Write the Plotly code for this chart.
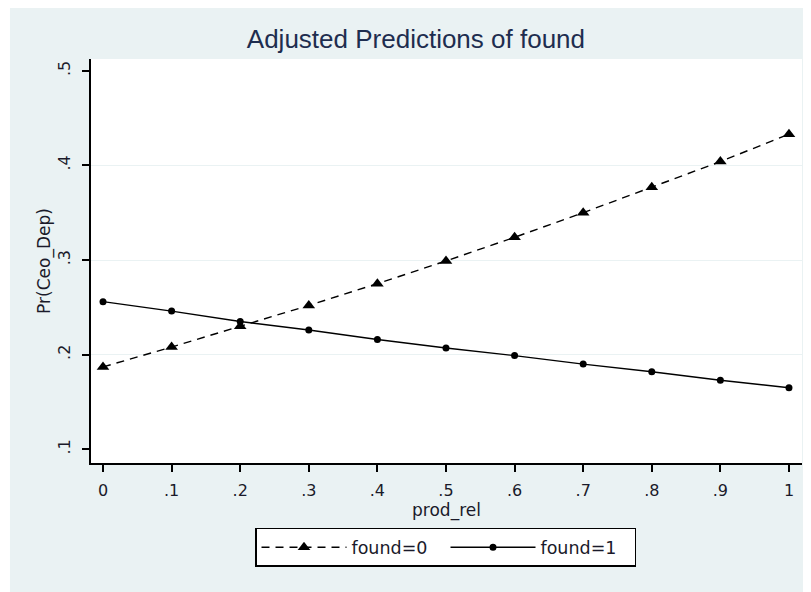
import plotly.graph_objects as go

prod_rel = [0, 0.1, 0.2, 0.3, 0.4, 0.5, 0.6, 0.7, 0.8, 0.9, 1.0]
found0 = [0.187, 0.208, 0.230, 0.252, 0.275, 0.299, 0.324, 0.350, 0.377, 0.404, 0.433]
found1 = [0.256, 0.246, 0.235, 0.226, 0.216, 0.207, 0.199, 0.190, 0.182, 0.173, 0.165]
x_ticks = [0, 0.1, 0.2, 0.3, 0.4, 0.5, 0.6, 0.7, 0.8, 0.9, 1.0]
x_labels = ["0", ".1", ".2", ".3", ".4", ".5", ".6", ".7", ".8", ".9", "1"]
y_ticks = [0.1, 0.2, 0.3, 0.4, 0.5]
y_labels = [".1", ".2", ".3", ".4", ".5"]
grid_ticks = [0.2, 0.3, 0.4]

BG = "#EAF2F3"
FONT = "DejaVu Sans, Verdana, sans-serif"
TFONT = "Liberation Sans, Arial, sans-serif"
TXT = "#1a1a2a"

fig = go.Figure()
fig.add_trace(go.Scatter(
    x=prod_rel, y=found0, mode="lines+markers", name="found=0",
    line=dict(color="black", width=1.4, dash="8px,6px"),
    marker=dict(symbol="triangle-up", size=11, color="black"),
))
fig.add_trace(go.Scatter(
    x=prod_rel, y=found1, mode="lines+markers", name="found=1",
    line=dict(color="black", width=1.4),
    marker=dict(symbol="circle", size=7, color="black"),
))

# invisible trace for gridline axis
fig.add_trace(go.Scatter(x=[None], y=[None], yaxis="y2", showlegend=False, hoverinfo="skip"))

xr = [-0.0175, 1.019]
yr = [0.0855, 0.5124]

fig.update_layout(
    width=803, height=584,
    margin=dict(l=83, r=9, t=51, b=129),
    paper_bgcolor="white",
    plot_bgcolor="white",
    font=dict(family=FONT, size=16, color=TXT),
    title=dict(text="Adjusted Predictions of found", x=0.508, xanchor="center",
               y=0.947, yanchor="middle", yref="container",
               font=dict(family=TFONT, size=26, color="#1E2D4F")),
    xaxis=dict(range=xr, tickvals=x_ticks, ticktext=x_labels, showgrid=False,
               zeroline=False, showline=True, linecolor="black", linewidth=1.5,
               ticks="outside", ticklen=7, tickwidth=1.5, tickcolor="black",
               ticklabelstandoff=5,
               title=dict(text="prod_rel", standoff=0, font=dict(size=17)),
               tickfont=dict(size=16)),
    yaxis=dict(range=yr, tickvals=y_ticks, ticktext=y_labels, showgrid=False,
               zeroline=False, showline=True, linecolor="black", linewidth=1.5,
               ticks="outside", ticklen=7, tickwidth=1.5, tickcolor="black",
               tickangle=-90, ticklabelstandoff=6,
               title=dict(text="Pr(Ceo_Dep)", standoff=0, font=dict(size=17)),
               tickfont=dict(size=16)),
    yaxis2=dict(range=yr, overlaying="y", tickvals=grid_ticks, showticklabels=False,
                showgrid=True, gridcolor=BG, gridwidth=1.2, zeroline=False,
                showline=False, ticks=""),
    legend=dict(orientation="h", x=0.4986, xanchor="center", y=-0.209, yanchor="middle",
                bgcolor="white", bordercolor="black", borderwidth=1.5,
                font=dict(family=FONT, size=17.5, color=TXT),
                itemwidth=85, tracegroupgap=0,
                entrywidth=89, entrywidthmode="pixels"),
    shapes=[
        dict(type="rect", xref="paper", yref="paper", x0=-0.114, x1=1.05,
             y0=-0.5, y1=1.2, fillcolor=BG, line=dict(width=0), layer="below"),
        dict(type="rect", xref="paper", yref="paper", x0=0, x1=1,
             y0=0, y1=1, fillcolor="white", line=dict(width=0), layer="below"),
    ],
)

fig.write_html("out.html")
